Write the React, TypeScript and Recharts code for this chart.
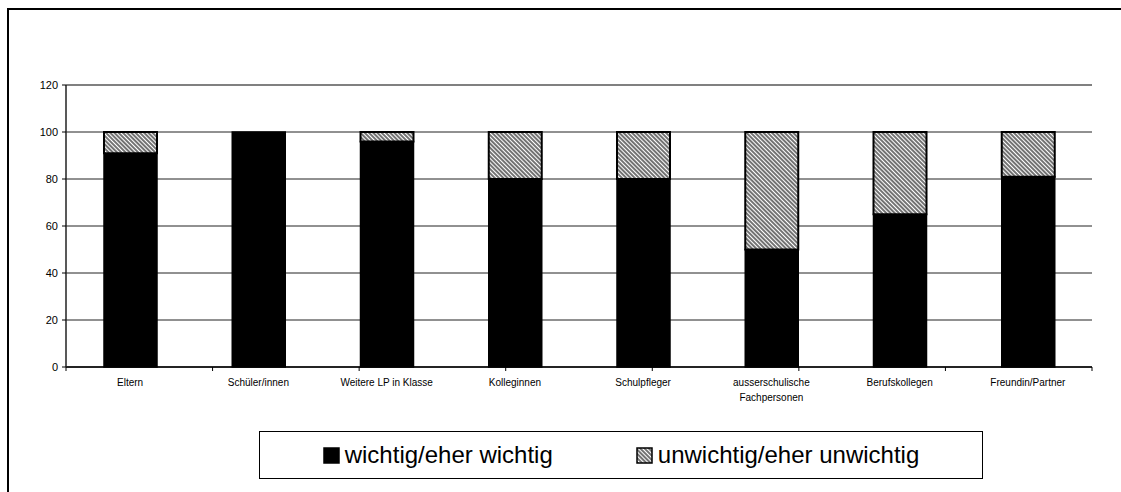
import React from "react";
import {
  BarChart,
  Bar,
  XAxis,
  YAxis,
  CartesianGrid,
  ReferenceLine,
} from "recharts";

const categories = [
  "Eltern",
  "Schüler/innen",
  "Weitere LP in Klasse",
  "Kolleginnen",
  "Schulpfleger",
  "ausserschulische Fachpersonen",
  "Berufskollegen",
  "Freundin/Partner",
];
const wichtig = [91, 100, 96, 80, 80, 50, 65, 81];
const unwichtig = [9, 0, 4, 20, 20, 50, 35, 19];
const yTicks = [0, 20, 40, 60, 80, 100, 120];
const edgeTicks = [0, 1, 2, 3, 4, 5, 6, 7, 8];

const data = categories.map((name, i) => ({
  name,
  wichtig: wichtig[i],
  unwichtig: unwichtig[i],
}));

const FONT = "'Liberation Sans', Arial, sans-serif";

const HatchDef = ({ id }: { id: string }) => (
  <pattern
    id={id}
    patternUnits="userSpaceOnUse"
    width="3"
    height="3"
    patternTransform="rotate(45)"
  >
    <rect width="3" height="3" fill="#fff" />
    <line x1="0" y1="1" x2="3" y2="1" stroke="#000" strokeWidth="1.1" />
  </pattern>
);

// long labels go onto two lines, like the original
const XTick = (props: any) => {
  const { x, y, payload } = props;
  const label: string = payload.value;
  const lines = label.length > 24 ? label.split(" ") : [label];
  return (
    <text
      x={x}
      y={y + 10}
      textAnchor="middle"
      fontSize={10}
      fontFamily={FONT}
      fill="#000"
    >
      {lines.map((l, i) => (
        <tspan key={i} x={x} dy={i === 0 ? 0 : 15}>
          {l}
        </tspan>
      ))}
    </text>
  );
};

function Legend() {
  const item = (label: string, hatched: boolean) => (
    <div style={{ display: "flex", alignItems: "center" }}>
      <svg width={17} height={17} style={{ marginRight: 5 }}>
        <defs>
          <HatchDef id="hatchLegend" />
        </defs>
        <rect
          x={1}
          y={1}
          width={15}
          height={15}
          fill={hatched ? "url(#hatchLegend)" : "#000"}
          stroke="#000"
          strokeWidth={1.5}
        />
      </svg>
      <span>{label}</span>
    </div>
  );
  return (
    <div
      style={{
        position: "absolute",
        left: 259,
        top: 431,
        width: 722,
        height: 46,
        border: "1px solid #000",
        display: "flex",
        alignItems: "center",
        justifyContent: "center",
        gap: 83,
        fontFamily: FONT,
        fontSize: 24,
        color: "#000",
        background: "#fff",
      }}
    >
      {item("wichtig/eher wichtig", false)}
      {item("unwichtig/eher unwichtig", true)}
    </div>
  );
}

export default function App() {
  return (
    <div
      style={{
        position: "fixed",
        left: 0,
        top: 0,
        width: 1121,
        height: 492,
        overflow: "hidden",
        background: "#fff",
      }}
    >
      <style>{"html, body { overflow: hidden; }"}</style>
      <div
        style={{
          position: "absolute",
          left: 7,
          top: 8,
          width: 1200,
          height: 600,
          borderTop: "2px solid #000",
          borderLeft: "2px solid #000",
        }}
      />
      <div style={{ position: "absolute", left: 0, top: 0 }}>
        <BarChart
          width={1121}
          height={492}
          data={data}
          margin={{ top: 85, right: 29, bottom: 84, left: 0 }}
        >
          <defs>
            <HatchDef id="hatch" />
          </defs>
          <CartesianGrid
            horizontal
            vertical={false}
            stroke="#222"
            strokeWidth={1}
            yAxisId="left"
          />
          {/* boundary tick marks between categories, sits on the plot edge */}
          <XAxis
            xAxisId={0}
            type="number"
            domain={[0, 8]}
            ticks={edgeTicks}
            interval={0}
            height={1}
            tick={() => <g />}
            tickSize={4}
            tickLine={{ stroke: "#000" }}
            axisLine={{ stroke: "#000", strokeWidth: 1.5 }}
            allowDataOverflow
          />
          <XAxis
            xAxisId={1}
            dataKey="name"
            height={40}
            tickLine={false}
            axisLine={false}
            tick={<XTick />}
            interval={0}
          />
          <YAxis
            yAxisId="left"
            width={66}
            domain={[0, 120]}
            ticks={yTicks}
            interval={0}
            tickSize={4}
            tickMargin={4}
            tickLine={{ stroke: "#000" }}
            axisLine={{ stroke: "#222", strokeWidth: 1.5 }}
            tick={{ fill: "#000", fontSize: 11, fontFamily: FONT }}
          />
          <YAxis
            yAxisId="right"
            orientation="right"
            width={0}
            domain={[0, 120]}
            tick={false}
            tickLine={false}
            axisLine={{ stroke: "#808080", strokeWidth: 2 }}
          />
          <ReferenceLine
            yAxisId="left"
            y={120}
            stroke="#808080"
            strokeWidth={2}
          />
          <Bar
            xAxisId={1}
            yAxisId="left"
            dataKey="wichtig"
            stackId="a"
            fill="#000"
            stroke="#000"
            strokeWidth={1.5}
            barSize={53}
            isAnimationActive={false}
          />
          <Bar
            xAxisId={1}
            yAxisId="left"
            dataKey="unwichtig"
            stackId="a"
            fill="url(#hatch)"
            stroke="#000"
            strokeWidth={2}
            barSize={53}
            isAnimationActive={false}
          />
        </BarChart>
      </div>
      <Legend />
    </div>
  );
}
